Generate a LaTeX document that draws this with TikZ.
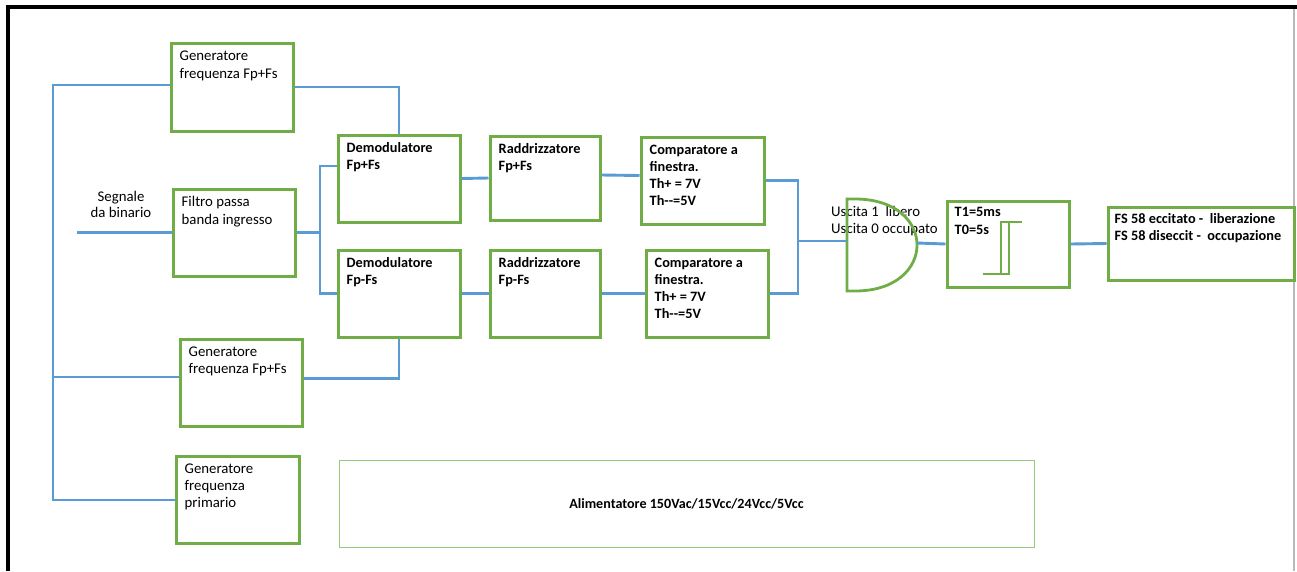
\documentclass[tikz,border=0pt]{standalone}
\usepackage{fontspec}
\setmainfont{Carlito}
\usepackage{tikz}
\usetikzlibrary{calc}
\definecolor{boxgreen}{RGB}{112,173,71}
\definecolor{psugreen}{RGB}{150,205,120}
\definecolor{wireblue}{RGB}{91,155,213}

\begin{document}
\begin{tikzpicture}[x=1pt,y=-1pt,
    blk/.style={draw=boxgreen,line width=3pt,rectangle,inner sep=0pt},
    blktxt/.style={anchor=north west,inner sep=0pt,align=left,font=\fontsize{14.8}{17.3}\selectfont},
    blkbold/.style={anchor=north west,inner sep=0pt,align=left,font=\fontsize{14.3}{17.3}\selectfont\bfseries},
    wire/.style={draw=wireblue,line width=2.9pt},
    gatel/.style={draw=boxgreen,line width=2.8pt}]
    \useasboundingbox (0,0) rectangle (1297,571);
    \draw[line width=4pt] (8,571) -- (8,7) -- (1297,7);
    \draw[gray!55, line width=1.2pt] (1294,9) -- (1294,571);

    \node at (232,87) [blk,minimum width=122,minimum height=88] (gen1) {};
    \node[blktxt] (gen1t) at ([shift={(10,9.5)}]gen1.north west) {Generatore\\frequenza Fp+Fs};
    \node at (234,232.5) [blk,minimum width=122,minimum height=87] (filt) {};
    \node[blktxt] (filtt) at ([shift={(10,9)}]filt.north west) {Filtro passa\\banda ingresso};
    \node at (241,382.5) [blk,minimum width=122,minimum height=87] (gen2) {};
    \node[blktxt] (gen2t) at ([shift={(10,9)}]gen2.north west) {Generatore\\frequenza Fp+Fs};
    \node at (237.5,499.5) [blk,minimum width=123,minimum height=87] (gen3) {};
    \node[blktxt] (gen3t) at ([shift={(10,9)}]gen3.north west) {Generatore\\frequenza\\primario};

    \node at (399,178.5) [blk,minimum width=122,minimum height=87] (dem1) {};
    \node[blkbold] (dem1t) at ([shift={(10,8.5)}]dem1.north west) {Demodulatore\\Fp+Fs};
    \node at (399,293.5) [blk,minimum width=122,minimum height=87] (dem2) {};
    \node[blkbold] (dem2t) at ([shift={(10,8.5)}]dem2.north west) {Demodulatore\\Fp-Fs};
    \node at (545,178) [blk,minimum width=110,minimum height=84] (rad1) {};
    \node[blkbold] (rad1t) at ([shift={(10,8.5)}]rad1.north west) {Raddrizzatore\\Fp+Fs};
    \node at (545,293.5) [blk,minimum width=110,minimum height=87] (rad2) {};
    \node[blkbold] (rad2t) at ([shift={(10,8.5)}]rad2.north west) {Raddrizzatore\\Fp-Fs};
    \node at (702.5,180.5) [blk,minimum width=123,minimum height=87] (comp1) {};
    \node[blkbold] (comp1t) at ([shift={(10,9)}]comp1.north west) {Comparatore a\\finestra.\\Th+ = 7V\\Th-{}-=5V};
    \node at (707,293.5) [blk,minimum width=122,minimum height=87] (comp2) {};
    \node[blkbold] (comp2t) at ([shift={(10,9)}]comp2.north west) {Comparatore a\\finestra.\\Th+ = 7V\\Th-{}-=5V};

    \node at (1008,244) [blk,minimum width=122,minimum height=86] (tim) {};
    \node[blkbold] (timt) at ([shift={(9,8)}]tim.north west) {T1=5ms\\T0=5s};
    \node at (1201,243.5) [blk,minimum width=186,minimum height=73] (out) {};
    \node[blkbold] (outt) at ([shift={(8,7.5)}]out.north west) {FS 58 eccitato -\ \ liberazione\\FS 58 diseccit -\ \ occupazione};
    \node at (686.5,503.5) [draw=psugreen,line width=1pt,minimum width=695,minimum height=87,
        font=\fontsize{14.1}{17}\selectfont\bfseries] (psu) {Alimentatore 150Vac/15Vcc/24Vcc/5Vcc};

    \node[anchor=north,align=center,inner sep=0pt,font=\fontsize{14.8}{16.5}\selectfont] (sigt) at (121,191) {Segnale\\da binario};
    \node[blktxt] (gatet) at (831,206) {Uscita 1\ \ libero\\Uscita 0 occupato};

    \draw[gatel] (847,199) -- (855,199) .. controls (937.7,199) and (937.7,291) .. (855,291) -- (847,291) -- cycle;
    \draw[gatel] (1001,274) -- (1001,222) -- (1022,222);
    \draw[gatel] (983,274) -- (1009,274) -- (1009,222);
    \coordinate (gatein) at (847,241);
    \coordinate (gateout) at (917,243);

    \coordinate (bustop) at (53,85);
    \coordinate (busmid) at (53,377);
    \coordinate (busbot) at (53,500);
    \draw[wire] (bustop -| gen1.west) -- (bustop) -- (busbot) -- (busbot -| gen3.west);
    \draw[wire] (busmid) -- (busmid -| gen2.west);
    \draw[wire] (gen1.east) -| (dem1.north);
    \draw[wire] ([yshift=4pt]gen2.east) -| (dem2.south);

    \coordinate (sig) at (77,232.5);
    \coordinate (split) at (320,232.5);
    \draw[wire] (sig) -- (filt.west);
    \draw[wire] (filt.east) -- (split);
    \draw[wire] ([yshift=12.5pt]dem1.west) -| (split) |- (dem2.west);
    \draw[wire] (dem1.east) -- (rad1.west);
    \draw[wire] (dem2.east) -- (rad2.west);
    \draw[wire] ([yshift=3pt]rad1.east) -- ([yshift=5pt]comp1.west);
    \draw[wire] (rad2.east) -- (comp2.west);

    \coordinate (join) at (798,241);
    \draw[wire] (comp1.east) -| (join);
    \draw[wire] (comp2.east) -| (join);
    \draw[wire] (join) -- (gatein);
    \draw[wire] (gateout) -- (tim.west);
    \draw[wire] (tim.east) -- (out.west);
\end{tikzpicture}
\end{document}
